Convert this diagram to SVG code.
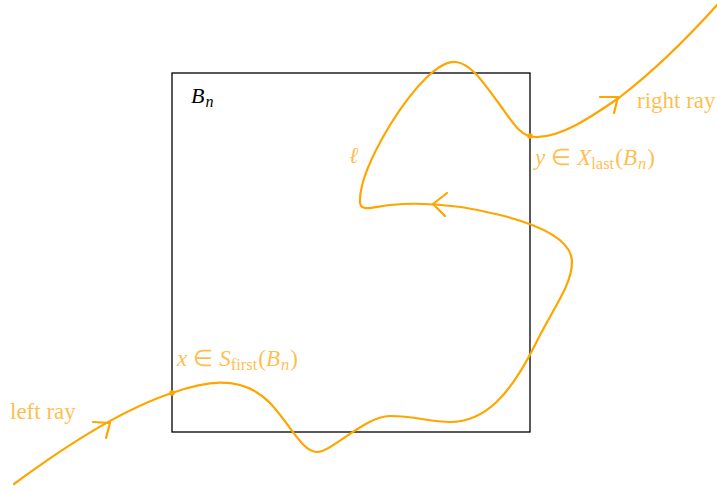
<svg xmlns="http://www.w3.org/2000/svg" width="717" height="491" viewBox="0 0 717 491">
<style>
.curve{fill:none;stroke:#FFA500;stroke-width:2.2;stroke-linecap:round;stroke-linejoin:round}
.lbl{font-family:"Liberation Serif",serif;font-size:23px;fill:#FFA500;fill-opacity:0.72}
.math{font-style:italic;font-size:23px}
.up{font-style:normal}
.sub{font-size:16.5px}
.box{fill:none;stroke:#000;stroke-width:1.3}
</style>
<rect width="717" height="491" fill="#fff"/>
<g id="box">
<rect class="box" x="172" y="73" width="358" height="359"/>
<text x="191" y="103" font-family="Liberation Serif,serif" font-size="22" font-style="italic" fill="#000">B<tspan font-size="16" dy="4" dx="1">n</tspan></text>
</g>
<g id="connectors">
<path class="curve" d="M14 484 C60 450 120 410 172 393 C200 383 240 372 270 403 C290 424 302 452 317 452 C332 452 365 416 390 416 C415 416 430 422 450 422 C485 422 510 395 535 345 C553 308 572 285 572 262 C572 240 540 225 500 215 C460 205 420 202 390 205 C372 207 362 212 360 203 C359 185 372 155 390 125 C415 85 440 60 456 62 C472 64 485 85 500 105 C512 121 520 137 535 137 C560 138 590 118 620 97 C655 70 690 35 717 5"/>
<path class="curve" d="M93 422 L110 423 L106 438"/>
<path class="curve" d="M600 97 L618 97 L614 113"/>
<path class="curve" d="M447 193 L433 204 L445 216"/>
<circle cx="172" cy="393" r="2.8" fill="#FFA500"/>
<circle cx="530" cy="136" r="2.8" fill="#FFA500"/>
</g>
<g id="labels">
<text class="lbl" x="10" y="419">left ray</text>
<text class="lbl" x="637" y="108">right ray</text>
<text class="lbl math" x="349" y="163" font-size="25">ℓ</text>
<text class="lbl math" x="177" y="366">x<tspan class="up" dx="6">∈</tspan><tspan dx="6">S</tspan><tspan class="up sub" dy="4">first</tspan><tspan class="up" dy="-4" dx="1">(</tspan>B<tspan class="sub" dy="4" dx="1">n</tspan><tspan class="up" dy="-4" dx="1">)</tspan></text>
<text class="lbl math" x="535" y="165">y<tspan class="up" dx="6">∈</tspan><tspan dx="6">X</tspan><tspan class="up sub" dy="4">last</tspan><tspan class="up" dy="-4" dx="1">(</tspan>B<tspan class="sub" dy="4" dx="1">n</tspan><tspan class="up" dy="-4" dx="1">)</tspan></text>
</g>
</svg>
